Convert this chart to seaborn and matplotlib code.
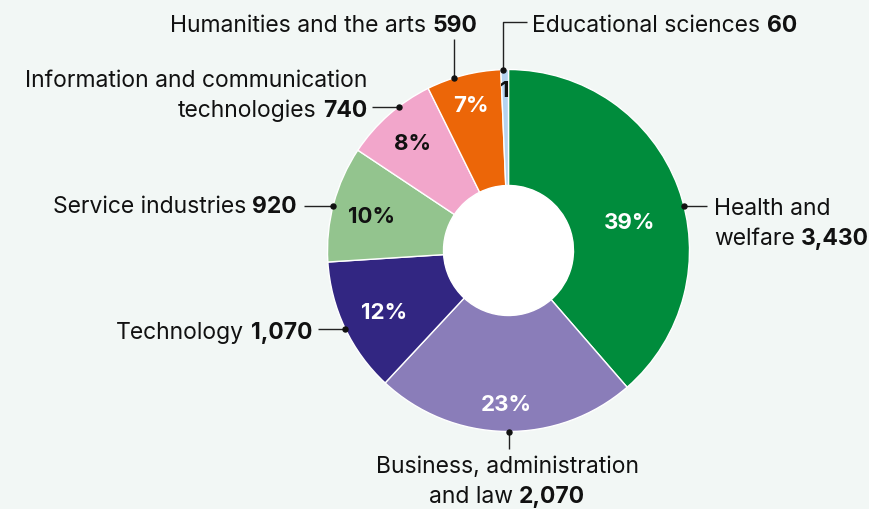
import matplotlib
matplotlib.use("Agg")
import matplotlib.pyplot as plt
from matplotlib.patches import Circle
import numpy as np
import seaborn as sns

# Graduates by field of education
fields = [
    "Health and\nwelfare",
    "Business, administration\nand law",
    "Technology",
    "Service industries",
    "Information and communication\ntechnologies",
    "Humanities and the arts",
    "Educational sciences",
]
counts = [3430, 2070, 1070, 920, 740, 590, 60]
colors = ["#008C3C", "#8A7DB9", "#322682", "#93C48E", "#F2A6CB", "#EC6608", "#B5D3EF"]
pct_text_colors = ["white", "white", "white", "#111111", "#111111", "white", "#111111"]

BG = "#F2F7F5"
TXT = "#111111"
FS = 16.5
PFS = 16

sns.set_theme(style="white")
plt.rcParams["font.family"] = ["Inter", "DejaVu Sans"]

W, H = 869, 510
fig = plt.figure(figsize=(W / 100, H / 100), dpi=100)
fig.patch.set_facecolor(BG)
ax = fig.add_axes([0, 0, 1, 1])
ax.set_facecolor(BG)

# geometry in pixel units (y measured from the top)
cx, cy = 508.5, H - 251.5
R, R_IN = 181, 65


def py(y):
    return H - y


wedges, _ = ax.pie(
    counts, colors=colors, startangle=90, counterclock=False,
    radius=R, center=(cx, cy),
    wedgeprops=dict(width=R - R_IN, edgecolor="white", linewidth=1.0),
)
ax.add_patch(Circle((cx, cy), R_IN, facecolor="white", edgecolor="none", zorder=3))
ax.set_xlim(0, W)
ax.set_ylim(0, H)
ax.set_aspect("equal")
ax.axis("off")

# percentage labels inside the ring
total = sum(counts)
pct_radius = [125, 152, 138, 142, 146, 152, 163]
pct_angle = [14.1, None, None, None, None, None, None]
for i, w in enumerate(wedges):
    p = round(counts[i] / total * 100)
    txt = f"{p}%" if counts[i] / total >= 0.02 else f"{p}"
    ang = pct_angle[i] if pct_angle[i] is not None else (w.theta1 + w.theta2) / 2
    a = np.deg2rad(ang)
    ax.text(cx + pct_radius[i] * np.cos(a), cy + pct_radius[i] * np.sin(a), txt,
            ha="center", va="center_baseline", fontsize=PFS, fontweight="bold",
            color=pct_text_colors[i], zorder=5)

renderer = fig.canvas.get_renderer()


def text_width(s, weight):
    t = ax.text(0, 0, s, fontsize=FS, fontweight=weight)
    wd = t.get_window_extent(renderer).width
    t.remove()
    return wd


SPACE = text_width("a a", "normal") - text_width("aa", "normal")


def rich_line(x, y, parts, ha):
    objs = [ax.text(0, 0, s, fontsize=FS, fontweight=wt, color=TXT, va="baseline")
            for s, wt in parts]
    widths = [o.get_window_extent(renderer).width for o in objs]
    tot = sum(widths) + SPACE * (len(parts) - 1)
    x0 = {"left": x, "right": x - tot, "center": x - tot / 2}[ha]
    for o, wd in zip(objs, widths):
        o.set_position((x0, py(y)))
        o.set_ha("left")
        x0 += wd + SPACE


# outer labels: leader anchor angle, leader path, text anchor x, first baseline, alignment
layout = [
    (14.3, [("h", 707)], 714, 215, "left"),
    (-90.0, [("v", 450)], 507, 473, "center"),
    (205.7, [("h", 318)], 312, 339, "right"),
    (165.7, [("h", 304)], 297, 213, "right"),
    (127.4, [("h", 372)], 367, 87, "right"),
    (107.5, [("v", 40)], 477, 32, "right"),
    (91.6, [("v", 23), ("h", 527)], 532, 32, "left"),
]
LINE_GAP = 30

for name, n, (ang, path, tx, ty, ha) in zip(fields, counts, layout):
    a = np.deg2rad(ang)
    x0, y0 = cx + R * np.cos(a), cy + R * np.sin(a)
    xs, ys = [x0], [y0]
    for kind, v in path:
        if kind == "h":
            xs.append(v); ys.append(ys[-1])
        else:
            xs.append(xs[-1]); ys.append(py(v))
    ax.plot(xs, ys, color="#222222", lw=1.0, zorder=6, solid_capstyle="butt")
    ax.plot([x0], [y0], "o", color="#111111", ms=3.6, zorder=7)

    lines = name.split("\n")
    for k, ln in enumerate(lines):
        parts = [(ln, "normal")]
        if k == len(lines) - 1:
            parts.append((f"{n:,}", "bold"))
        rich_line(tx, ty + k * LINE_GAP, parts, ha)

fig.savefig("out.png", dpi=100, facecolor=BG)
